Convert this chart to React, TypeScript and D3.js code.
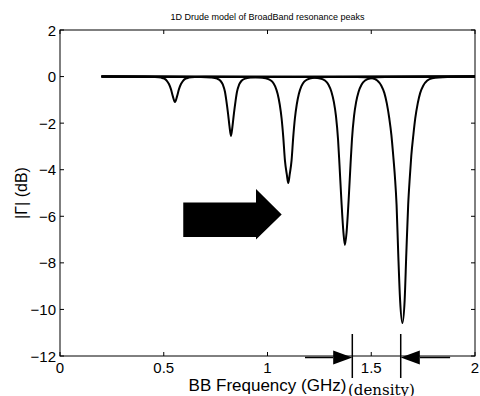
import React from "react";
import * as d3 from "d3";

// ---- data ----
const xTicks = [0, 0.5, 1, 1.5, 2];
const yTicks = [2, 0, -2, -4, -6, -8, -10, -12];
const xTickLabels = ["0", "0.5", "1", "1.5", "2"];
const yTickLabels = ["2", "0", "\u22122", "\u22124", "\u22126", "\u22128", "\u221210", "\u221212"];

const dip1Freq = [0.2, 0.409, 0.458, 0.487, 0.503, 0.515, 0.525, 0.535, 0.544, 0.554, 0.564, 0.573, 0.583, 0.593, 0.605, 0.621, 0.65, 0.699, 2.0];
const dip1Db = [0, -0.01, -0.02, -0.045, -0.09, -0.18, -0.32, -0.55, -0.85, -1.09, -0.85, -0.55, -0.32, -0.18, -0.09, -0.045, -0.02, -0.01, 0];

const dip2Freq = [0.2, 0.679, 0.728, 0.757, 0.773, 0.785, 0.795, 0.802, 0.81, 0.817, 0.824, 0.831, 0.838, 0.846, 0.853, 0.863, 0.875, 0.892, 0.92, 0.969, 2.0];
const dip2Db = [0, -0.015, -0.04, -0.09, -0.18, -0.35, -0.65, -1.05, -1.6, -2.15, -2.55, -2.15, -1.6, -1.05, -0.65, -0.35, -0.18, -0.09, -0.04, -0.015, 0];

const dip3Freq = [0.2, 0.907, 0.975, 1.004, 1.023, 1.037, 1.049, 1.059, 1.068, 1.076, 1.084, 1.093, 1.1, 1.107, 1.116, 1.124, 1.132, 1.141, 1.151, 1.163, 1.177, 1.196, 1.225, 1.293, 2.0];
const dip3Db = [0, -0.02, -0.05, -0.11, -0.22, -0.42, -0.75, -1.2, -1.8, -2.6, -3.6, -4.2, -4.57, -4.2, -3.6, -2.6, -1.8, -1.2, -0.75, -0.42, -0.22, -0.11, -0.05, -0.02, 0];

const dip4Freq = [0.2, 1.181, 1.248, 1.277, 1.294, 1.308, 1.32, 1.33, 1.34, 1.347, 1.356, 1.366, 1.373, 1.381, 1.391, 1.4, 1.407, 1.417, 1.427, 1.439, 1.453, 1.47, 1.499, 1.566, 2.0];
const dip4Db = [0, -0.02, -0.07, -0.17, -0.35, -0.65, -1.1, -1.7, -2.7, -3.8, -5.3, -6.7, -7.23, -6.7, -5.3, -3.8, -2.7, -1.7, -1.1, -0.65, -0.35, -0.17, -0.07, -0.02, 0];

const dip5Freq = [0.2, 1.433, 1.505, 1.529, 1.548, 1.563, 1.575, 1.587, 1.597, 1.606, 1.614, 1.622, 1.63, 1.639, 1.65, 1.661, 1.669, 1.678, 1.686, 1.693, 1.703, 1.712, 1.724, 1.736, 1.751, 1.77, 1.794, 1.867, 2.0];
const dip5Db = [0, -0.02, -0.07, -0.17, -0.38, -0.7, -1.15, -1.8, -2.5, -3.4, -4.3, -5.5, -7.6, -9.6, -10.58, -9.6, -7.6, -5.5, -4.3, -3.4, -2.5, -1.8, -1.15, -0.7, -0.38, -0.17, -0.07, -0.02, 0];

const seriesFreq = [dip1Freq, dip2Freq, dip3Freq, dip4Freq, dip5Freq];
const seriesDb = [dip1Db, dip2Db, dip3Db, dip4Db, dip5Db];

// annotation arrows (data units)
const bigArrowX = [0.594, 0.9446, 1.0684];
const bigArrowY = [-5.41, -6.89, -4.83, -7.0, -5.92];
const markerX = [1.4087, 1.642];
const shaftX = [1.1807, 1.88];
const headLen = 0.092;

const W = 480, H = 396;
const M = { left: 60, right: 475, top: 30, bottom: 356 };

export default function App() {
  const x = d3.scaleLinear().domain([0, 2]).range([M.left, M.right]);
  const y = d3.scaleLinear().domain([-12, 2]).range([M.bottom, M.top]);
  const line = d3
    .line<[number, number]>()
    .x((d) => x(d[0]))
    .y((d) => y(d[1]))
    .curve(d3.curveMonotoneX);

  const font = "'Liberation Sans', Arial, Helvetica, sans-serif";

  const [bx0, bx1, bxTip] = bigArrowX;
  const [byTop, byBot, bhTop, bhBot, byTip] = bigArrowY;
  const bigArrow = [
    [x(bx0), y(byTop)],
    [x(bx1), y(byTop)],
    [x(bx1), y(bhTop)],
    [x(bxTip), y(byTip)],
    [x(bx1), y(bhBot)],
    [x(bx1), y(byBot)],
    [x(bx0), y(byBot)],
  ]
    .map((p) => p.join(","))
    .join(" ");

  const ay = M.bottom + 1.5;
  const lTip = x(markerX[0]);
  const rTip = x(markerX[1]);
  const hl = x(headLen) - x(0);

  return (
    <svg
      width={W}
      height={H}
      style={{ position: "absolute", left: 0, top: 0, background: "#fff" }}
      fontFamily={font}
    >
      <rect x={0} y={0} width={W} height={H} fill="#fff" />
      {/* title */}
      <text x={(M.left + M.right) / 2} y={19.5} fontSize={9} textAnchor="middle" fill="#000">
        1D Drude model of BroadBand resonance peaks
      </text>

      {/* curves */}
      <g fill="none" stroke="#000" strokeWidth={2} strokeLinejoin="round">
        {seriesFreq.map((fs, i) => (
          <path key={i} d={line(fs.map((f, j) => [f, seriesDb[i][j]]) as [number, number][]) || ""} />
        ))}
      </g>

      {/* box */}
      <rect
        x={M.left}
        y={M.top}
        width={M.right - M.left}
        height={M.bottom - M.top}
        fill="none"
        stroke="#000"
        strokeWidth={1}
      />
      {/* ticks */}
      <g stroke="#000" strokeWidth={1}>
        {xTicks.map((t) => (
          <g key={"x" + t}>
            <line x1={x(t)} x2={x(t)} y1={M.bottom} y2={M.bottom - 4} />
            <line x1={x(t)} x2={x(t)} y1={M.top} y2={M.top + 4} />
          </g>
        ))}
        {yTicks.map((t) => (
          <g key={"y" + t}>
            <line x1={M.left} x2={M.left + 4} y1={y(t)} y2={y(t)} />
            <line x1={M.right} x2={M.right - 4} y1={y(t)} y2={y(t)} />
          </g>
        ))}
      </g>
      {/* tick labels */}
      <g fontSize={15} fill="#000">
        {xTicks.map((t, i) => (
          <text key={"xl" + t} x={x(t)} y={M.bottom + 17} textAnchor="middle">
            {xTickLabels[i]}
          </text>
        ))}
        {yTicks.map((t, i) => (
          <text key={"yl" + t} x={M.left - 4} y={y(t) + 5.5} textAnchor="end">
            {yTickLabels[i]}
          </text>
        ))}
      </g>
      {/* axis labels */}
      <text x={(M.left + M.right) / 2} y={391} fontSize={17} textAnchor="middle" fill="#000">
        BB Frequency (GHz)
      </text>
      <text
        transform={`translate(27,${(M.top + M.bottom) / 2}) rotate(-90)`}
        fontSize={16}
        textAnchor="middle"
        fill="#000"
      >
        |Γ| (dB)
      </text>

      {/* big arrow */}
      <polygon points={bigArrow} fill="#000" />

      {/* density marker arrows */}
      <g stroke="#000" strokeWidth={1.5}>
        <line x1={lTip} x2={lTip} y1={334} y2={378} />
        <line x1={rTip} x2={rTip} y1={334} y2={378} />
        <line x1={x(shaftX[0])} x2={lTip - hl} y1={ay} y2={ay} />
        <line x1={x(shaftX[1])} x2={rTip + hl} y1={ay} y2={ay} />
      </g>
      <polygon points={`${lTip - hl},${ay - 7} ${lTip},${ay} ${lTip - hl},${ay + 7}`} fill="#000" />
      <polygon points={`${rTip + hl},${ay - 7} ${rTip},${ay} ${rTip + hl},${ay + 7}`} fill="#000" />
      <text x={348} y={395} fontSize={15} fontFamily="'DejaVu Serif', serif" fill="#000">
        (density)
      </text>
    </svg>
  );
}
